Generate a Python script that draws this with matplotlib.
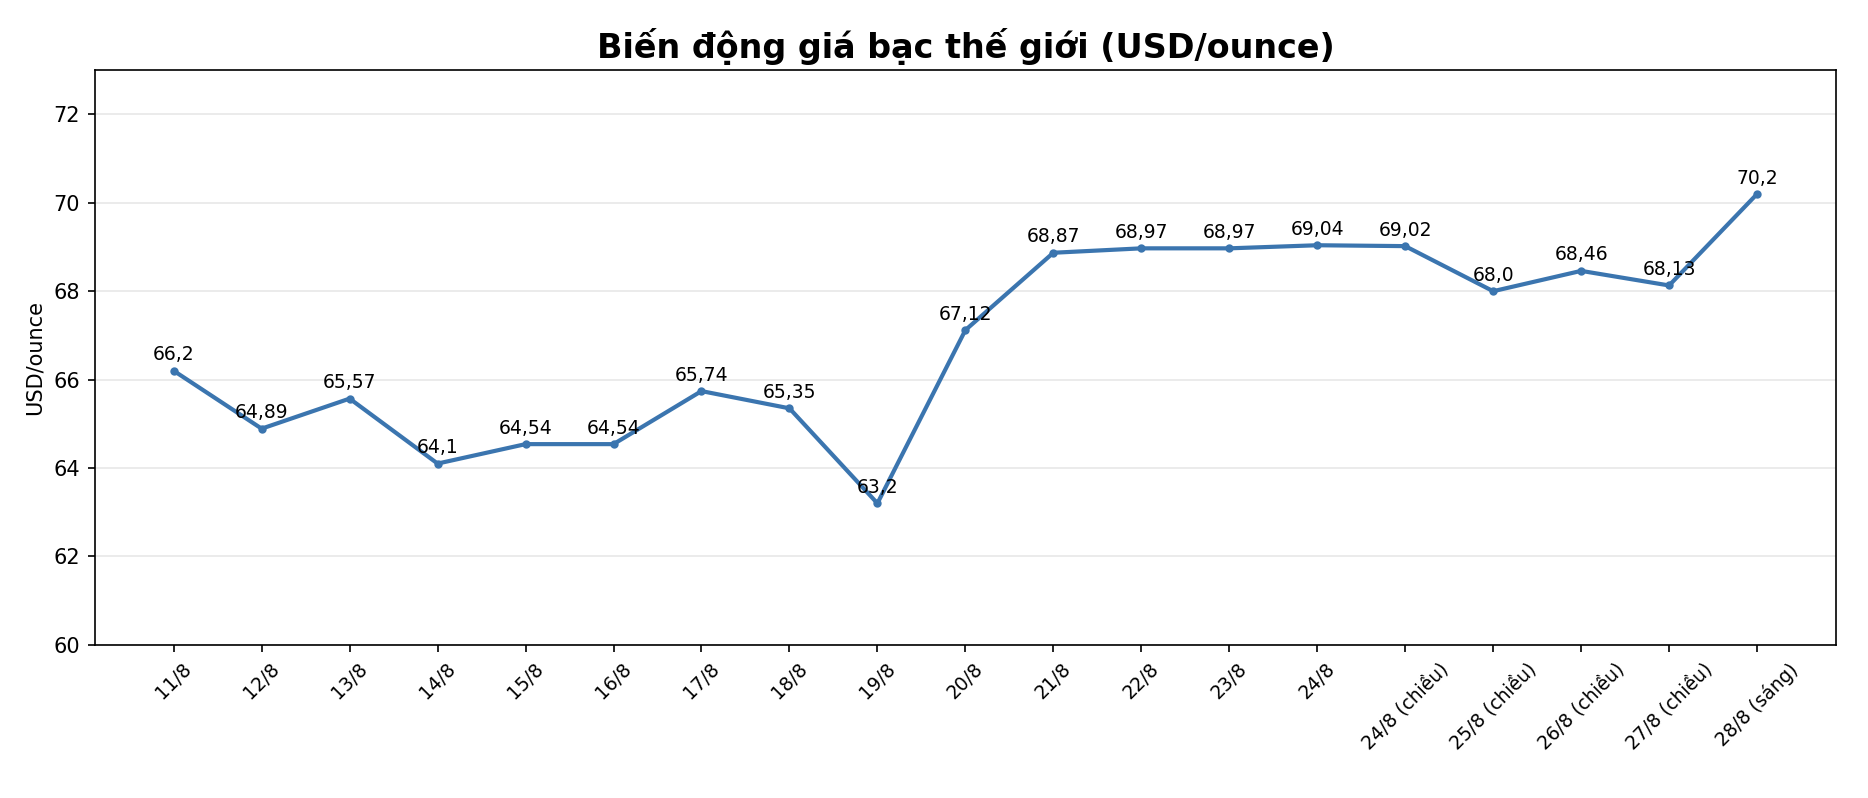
import numpy as np
import matplotlib
matplotlib.use("Agg")
import matplotlib.pyplot as plt

# du lieu gia bac
ngay = ['11/8', '12/8', '13/8', '14/8', '15/8', '16/8', '17/8', '18/8', '19/8',
        '20/8', '21/8', '22/8', '23/8', '24/8', '24/8 (chiều)', '25/8 (chiều)',
        '26/8 (chiều)', '27/8 (chiều)', '28/8 (sáng)']
gia = [66.2, 64.89, 65.57, 64.1, 64.54, 64.54, 65.74, 65.35, 63.2,
       67.12, 68.87, 68.97, 68.97, 69.04, 69.02, 68.0, 68.46, 68.13, 70.2]

x = np.arange(len(ngay))

fig, ax = plt.subplots(figsize=(1868 / 150, 798 / 150), dpi=150)
fig.subplots_adjust(left=0.0506, right=0.983, top=0.912, bottom=0.192)

ax.plot(x, gia, color='#3b75af', linewidth=2, marker='o', markersize=3)

for xi, v in zip(x, gia):
    ax.annotate(str(v).replace('.', ','), (xi, v), textcoords='offset points',
                xytext=(0, 5), ha='center', fontsize=9)

ax.set_xticks(x)
ax.set_xticklabels(ngay, rotation=45, fontsize=9)
ax.set_ylim(60, 73)
ax.set_yticks(np.arange(60, 73, 2))
ax.set_ylabel('USD/ounce')
ax.set_title('Biến động giá bạc thế giới (USD/ounce)', fontsize=16, fontweight='bold')
ax.grid(axis='y', alpha=0.3)

fig.savefig('out.png', dpi=150)
